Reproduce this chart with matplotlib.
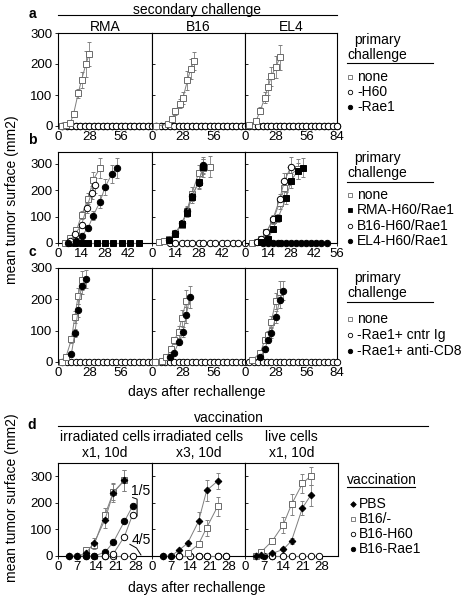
import matplotlib

matplotlib.use("Agg")
import matplotlib.pyplot as plt  # noqa: E402

plt.rcParams["font.family"] = ["Liberation Sans", "DejaVu Sans"]
plt.rcParams["font.size"] = 10

W, H = 466, 599

# ---- panel a: secondary challenge, primary challenge none / -H60 / -Rae1
A_ZERO_DAY = [4, 8, 12, 16, 20, 24, 28, 32, 36, 40, 44, 48, 52, 56, 60, 64, 68, 72, 76, 80, 84]
A_ZERO_VAL = [0, 0, 0, 0, 0, 0, 0, 0, 0, 0, 0, 0, 0, 0, 0, 0, 0, 0, 0, 0, 0]
A_RMA_DAY = [4, 7, 11, 14, 18, 21, 25, 28]
A_RMA_NONE = [0, 2, 10, 40, 105, 148, 200, 233]
A_RMA_ERR = [0, 1, 4, 8, 15, 25, 42, 38]
A_B16_DAY = [4, 14, 18, 21, 25, 28, 32, 35, 38]
A_B16_NONE = [0, 5, 24, 47, 72, 91, 147, 185, 210]
A_B16_ERR = [0, 2, 6, 10, 15, 20, 30, 32, 30]
A_EL4_DAY = [4, 10, 14, 18, 21, 24, 28, 32]
A_EL4_NONE = [2, 16, 50, 91, 126, 160, 190, 222]
A_EL4_ERR = [0, 5, 12, 18, 25, 30, 35, 40]

# ---- panel b: primary challenge none / RMA / B16 / EL4 -H60/Rae1
B_RMA_NONE_DAY = [4, 7, 11, 14, 18, 21, 25]
B_RMA_NONE = [0, 20, 48, 105, 168, 240, 284]
B_RMA_NONE_ERR = [0, 4, 8, 15, 22, 30, 38]
B_RMA_B16_DAY = [7, 10, 14, 17, 20, 22]
B_RMA_B16 = [8, 33, 68, 133, 190, 218]
B_RMA_B16_ERR = [2, 6, 10, 18, 25, 30]
B_RMA_EL4_DAY = [6, 11, 14, 18, 21, 25, 28, 32, 35]
B_RMA_EL4 = [0, 8, 26, 58, 104, 156, 211, 261, 284]
B_RMA_EL4_ERR = [0, 3, 6, 12, 18, 25, 30, 35, 38]
B_RMA_RMA_DAY = [6, 10, 14, 18, 23, 28, 33, 38, 43, 48]
B_RMA_RMA = [0, 0, 0, 0, 0, 0, 0, 0, 0, 0]

B_B16_NONE_DAY = [4, 7, 10, 14, 18, 21, 24, 28, 31, 35]
B_B16_NONE = [3, 8, 14, 39, 70, 123, 186, 265, 284, 290]
B_B16_NONE_ERR = [0, 2, 4, 8, 12, 18, 25, 30, 35, 40]
B_B16_RMA_DAY = [10, 14, 18, 21, 24, 28, 31]
B_B16_RMA = [10, 35, 72, 115, 173, 233, 290]
B_B16_RMA_ERR = [3, 6, 10, 15, 20, 25, 30]
B_B16_EL4_DAY = [10, 14, 18, 21, 24, 28, 31]
B_B16_EL4 = [12, 38, 75, 120, 178, 228, 295]
B_B16_EL4_ERR = [3, 6, 10, 15, 20, 25, 30]
B_B16_B16_DAY = [11, 14, 18, 21, 24, 28, 31, 35, 38, 42, 45, 49, 52, 56]
B_B16_B16 = [0, 0, 0, 0, 0, 0, 0, 0, 0, 0, 0, 0, 0, 0]

B_EL4_NONE_DAY = [4, 7, 10, 13, 17, 21, 24, 27, 32]
B_EL4_NONE = [0, 4, 15, 42, 86, 152, 209, 255, 280]
B_EL4_NONE_ERR = [0, 2, 5, 10, 15, 22, 30, 35, 38]
B_EL4_B16_DAY = [7, 10, 13, 17, 21, 24, 28]
B_EL4_B16 = [4, 15, 40, 90, 165, 235, 290]
B_EL4_B16_ERR = [2, 5, 10, 15, 22, 30, 35]
B_EL4_RMA_DAY = [10, 14, 17, 20, 25, 28, 32, 35]
B_EL4_RMA = [2, 15, 53, 94, 170, 235, 273, 286]
B_EL4_RMA_ERR = [1, 4, 10, 15, 22, 28, 32, 35]
B_EL4_EL4_DAY = [11, 14, 17, 20, 22, 25, 28, 31, 34, 37, 40, 43, 46, 50]
B_EL4_EL4 = [0, 0, 0, 0, 0, 0, 0, 0, 0, 0, 0, 0, 0, 0]

# ---- panel c: primary challenge none / -Rae1+ cntr Ig / -Rae1+ anti-CD8
C_IG_DAY = [4, 8, 12, 16, 20, 24, 28, 32, 36, 40, 44, 48, 52, 56, 60, 64, 68, 72, 76, 80, 84]
C_IG_VAL = [0, 0, 0, 0, 0, 0, 0, 0, 0, 0, 0, 0, 0, 0, 0, 0, 0, 0, 0, 0, 0]
C_RMA_NONE_DAY = [4, 7, 12, 15, 18, 21]
C_RMA_NONE = [0, 15, 72, 144, 211, 261]
C_RMA_NONE_ERR = [0, 3, 10, 18, 25, 30]
C_RMA_CD8_DAY = [12, 15, 18, 21, 25]
C_RMA_CD8 = [26, 93, 165, 243, 265]
C_RMA_CD8_ERR = [5, 12, 20, 25, 30]
C_B16_NONE_DAY = [3, 9, 13, 17, 20, 24, 27, 31]
C_B16_NONE = [0, 4, 15, 40, 69, 96, 141, 195]
C_B16_NONE_ERR = [0, 2, 4, 8, 12, 18, 25, 35]
C_B16_CD8_DAY = [16, 20, 24, 28, 31, 34]
C_B16_CD8 = [15, 29, 63, 96, 149, 208]
C_B16_CD8_ERR = [4, 6, 10, 15, 25, 35]
C_EL4_NONE_DAY = [6, 14, 18, 21, 24, 28, 32]
C_EL4_NONE = [5, 29, 70, 86, 129, 194, 224]
C_EL4_NONE_ERR = [2, 6, 10, 12, 18, 25, 35]
C_EL4_CD8_DAY = [14, 18, 21, 24, 28, 32, 35]
C_EL4_CD8 = [16, 40, 70, 92, 144, 199, 227]
C_EL4_CD8_ERR = [4, 8, 10, 15, 20, 28, 30]

# ---- panel d: vaccination PBS / B16/- / B16-H60 / B16-Rae1
D1_PBS_DAY = [4, 7, 10, 13, 17, 20, 24]
D1_PBS = [0, 0, 10, 48, 137, 238, 285]
D1_PBS_ERR = [0, 0, 3, 20, 30, 35, 40]
D1_B16_DAY = [10, 13, 17, 20, 24]
D1_B16 = [22, 40, 155, 240, 285]
D1_B16_ERR = [3, 10, 25, 30, 40]
D1_RAE_DAY = [4, 7, 10, 13, 17, 20, 24, 27]
D1_RAE = [0, 0, 0, 0, 14, 52, 130, 188]
D1_H60_DAY = [17, 20, 24, 27]
D1_H60 = [0, 8, 73, 156]
D1_H60Z_DAY = [10, 13, 17, 20, 24, 27]
D1_H60Z = [0, 0, 0, 0, 0, 0]

D2_PBS_DAY = [4, 7, 10, 13, 17, 20, 24]
D2_PBS = [0, 0, 23, 48, 130, 247, 282]
D2_PBS_ERR = [0, 0, 5, 10, 35, 40, 30]
D2_B16_DAY = [13, 17, 20, 24]
D2_B16 = [10, 44, 107, 187]
D2_B16_ERR = [3, 12, 30, 35]
D2_RAE_DAY = [4, 7, 10, 14, 17, 20, 24, 27]
D2_RAE = [0, 0, 0, 0, 0, 0, 0, 0]
D2_H60_DAY = [10, 14, 17, 20, 24, 27]
D2_H60 = [0, 0, 0, 0, 0, 0]

D3_PBS_DAY = [4, 6, 10, 14, 17, 21, 24]
D3_PBS = [0, 4, 10, 25, 57, 181, 228]
D3_PBS_ERR = [0, 1, 3, 8, 12, 25, 40]
D3_B16_DAY = [4, 6, 10, 14, 17, 21, 24]
D3_B16 = [0, 16, 57, 118, 194, 273, 301]
D3_B16_ERR = [0, 3, 10, 30, 40, 35, 35]
D3_RAE_DAY = [4, 7, 10]
D3_RAE = [0, 0, 0]
D3_H60_DAY = [10, 14, 17, 21, 24, 27]
D3_H60 = [0, 0, 0, 0, 0, 0]

STYLE = {
    "none": dict(marker="s", mfc="white", mec="#6a6a6a"),
    "open": dict(marker="o", mfc="white", mec="black"),
    "dot": dict(marker="o", mfc="black", mec="black"),
    "fsq": dict(marker="s", mfc="black", mec="black"),
    "dia": dict(marker="D", mfc="black", mec="black"),
}
LINE = "#7f7f7f"


def px_axes(fig, x0, x1, top, bottom):
    return fig.add_axes([x0 / W, 1 - bottom / H, (x1 - x0) / W, (bottom - top) / H])


def series(ax, days, vals, style, err=None, ms=4.6):
    kw = dict(color=LINE, lw=0.7, ms=ms if style != "dia" else ms - 1.2, mew=0.7,
              clip_on=False, zorder=3, **STYLE[style])
    if err is None:
        ax.plot(days, vals, **kw)
    else:
        ax.errorbar(days, vals, yerr=err, ecolor=LINE, elinewidth=0.6, capsize=1.6,
                    capthick=0.6, **kw)


def style_axes(ax, xlim, ylim, xticks, first):
    ax.set_xlim(*xlim)
    ax.set_ylim(*ylim)
    ax.set_xticks(xticks)
    ax.set_yticks([0, 100, 200, 300])
    for sp in ax.spines.values():
        sp.set_linewidth(0.8)
    ax.tick_params(axis="x", length=2, width=0.6, pad=1.5, labelsize=9.5)
    ax.tick_params(axis="y", length=2.5, width=0.6, pad=1.5, labelsize=9.5,
                   direction="out" if first else "in", labelleft=first)


fig = plt.figure(figsize=(W / 100, H / 100), dpi=100)

cols = [(58, 152), (152, 245), (245, 337)]

# panel a
a_sets = [(A_RMA_DAY, A_RMA_NONE, A_RMA_ERR), (A_B16_DAY, A_B16_NONE, A_B16_ERR),
          (A_EL4_DAY, A_EL4_NONE, A_EL4_ERR)]
for i, (x0, x1) in enumerate(cols):
    ax = px_axes(fig, x0, x1, 33, 126)
    style_axes(ax, (0, 84), (0, 300), [0, 28, 56, 84] if i == 2 else [0, 28, 56], i == 0)
    series(ax, A_ZERO_DAY, A_ZERO_VAL, "dot")
    series(ax, A_ZERO_DAY, A_ZERO_VAL, "open")
    d, v, e = a_sets[i]
    series(ax, d, v, "none", e)

# panel b
b_sets = [
    [(B_RMA_RMA_DAY, B_RMA_RMA, None, "fsq"), (B_RMA_NONE_DAY, B_RMA_NONE, B_RMA_NONE_ERR, "none"),
     (B_RMA_B16_DAY, B_RMA_B16, B_RMA_B16_ERR, "open"), (B_RMA_EL4_DAY, B_RMA_EL4, B_RMA_EL4_ERR, "dot")],
    [(B_B16_B16_DAY, B_B16_B16, None, "open"), (B_B16_NONE_DAY, B_B16_NONE, B_B16_NONE_ERR, "none"),
     (B_B16_EL4_DAY, B_B16_EL4, B_B16_EL4_ERR, "dot"), (B_B16_RMA_DAY, B_B16_RMA, B_B16_RMA_ERR, "fsq")],
    [(B_EL4_EL4_DAY, B_EL4_EL4, None, "dot"), (B_EL4_NONE_DAY, B_EL4_NONE, B_EL4_NONE_ERR, "none"),
     (B_EL4_B16_DAY, B_EL4_B16, B_EL4_B16_ERR, "open"), (B_EL4_RMA_DAY, B_EL4_RMA, B_EL4_RMA_ERR, "fsq")],
]
for i, (x0, x1) in enumerate(cols):
    ax = px_axes(fig, x0, x1, 152, 243)
    style_axes(ax, (0, 56), (0, 345), [0, 14, 28, 42, 56] if i == 2 else [0, 14, 28, 42], i == 0)
    for d, v, e, s in b_sets[i]:
        series(ax, d, v, s, e)

# panel c
c_sets = [(C_RMA_NONE_DAY, C_RMA_NONE, C_RMA_NONE_ERR, C_RMA_CD8_DAY, C_RMA_CD8, C_RMA_CD8_ERR),
          (C_B16_NONE_DAY, C_B16_NONE, C_B16_NONE_ERR, C_B16_CD8_DAY, C_B16_CD8, C_B16_CD8_ERR),
          (C_EL4_NONE_DAY, C_EL4_NONE, C_EL4_NONE_ERR, C_EL4_CD8_DAY, C_EL4_CD8, C_EL4_CD8_ERR)]
for i, (x0, x1) in enumerate(cols):
    ax = px_axes(fig, x0, x1, 268, 362)
    style_axes(ax, (0, 84), (0, 300), [0, 28, 56, 84] if i == 2 else [0, 28, 56], i == 0)
    series(ax, C_IG_DAY, C_IG_VAL, "open")
    nd, nv, ne, cd, cv, ce = c_sets[i]
    series(ax, nd, nv, "none", ne)
    series(ax, cd, cv, "dot", ce)

# panel d
d_sets = [
    [(D1_H60Z_DAY, D1_H60Z, None, "open"), (D1_RAE_DAY, D1_RAE, None, "dot"),
     (D1_H60_DAY, D1_H60, None, "open"), (D1_B16_DAY, D1_B16, D1_B16_ERR, "none"),
     (D1_PBS_DAY, D1_PBS, D1_PBS_ERR, "dia")],
    [(D2_RAE_DAY, D2_RAE, None, "dot"), (D2_H60_DAY, D2_H60, None, "open"),
     (D2_B16_DAY, D2_B16, D2_B16_ERR, "none"), (D2_PBS_DAY, D2_PBS, D2_PBS_ERR, "dia")],
    [(D3_RAE_DAY, D3_RAE, None, "dot"), (D3_H60_DAY, D3_H60, None, "open"),
     (D3_B16_DAY, D3_B16, D3_B16_ERR, "none"), (D3_PBS_DAY, D3_PBS, D3_PBS_ERR, "dia")],
]
d_axes = []
for i, (x0, x1) in enumerate([(58, 152), (152, 245), (245, 338)]):
    ax = px_axes(fig, x0, x1, 463, 556)
    style_axes(ax, (0, 34), (0, 350), [0, 7, 14, 21, 28], i == 0)
    for d, v, e, s in d_sets[i]:
        series(ax, d, v, s, e)
    d_axes.append(ax)

ax = d_axes[0]
ax.text(30, 243, "1/5", ha="center", va="center", fontsize=10)
ax.plot([27.0, 28.6, 28.6, 27.3], [220, 214, 150, 144], color="black", lw=0.7, clip_on=False)
ax.text(30, 62, "4/5", ha="center", va="center", fontsize=10)
ax.plot([26.0, 28.4, 30.0], [44, 30, 4], color="black", lw=0.7, clip_on=False)

# overlay in pixel coordinates for headers and legends
ov = fig.add_axes([0, 0, 1, 1])
ov.set_xlim(0, W)
ov.set_ylim(H, 0)
ov.set_axis_off()
ov.patch.set_alpha(0)

ov.text(197, 10, "secondary challenge", ha="center", va="center")
ov.plot([58, 337], [15, 15], color="black", lw=0.8)
for (x0, x1), name in zip(cols, ["RMA", "B16", "EL4"]):
    ov.text((x0 + x1) / 2, 27, name, ha="center", va="center")

ov.text(229, 418, "vaccination", ha="center", va="center")
ov.plot([58, 428], [426, 426], color="black", lw=0.8)
for (x0, x1), name in zip([(58, 152), (152, 245), (245, 338)],
                          ["irradiated cells\nx1, 10d", "irradiated cells\nx3, 10d", "live cells\nx1, 10d"]):
    ov.text((x0 + x1) / 2, 445, name, ha="center", va="center", linespacing=1.15)

for lab, y in [("a", 14), ("b", 140), ("c", 252), ("d", 425)]:
    ov.text(32, y, lab, ha="center", va="center", fontweight="bold", fontsize=10)

ov.text(12, 200, "mean tumor surface (mm2)", rotation=90, ha="center", va="center")
ov.text(12, 498, "mean tumor surface (mm2)", rotation=90, ha="center", va="center")
ov.text(197, 392, "days after rechallenge", ha="center", va="center")
ov.text(197, 588, "days after rechallenge", ha="center", va="center")


def legend_mark(x, y, style):
    ov.plot([x], [y], ls="none", ms=3.2 if style != "dia" else 2.8, mew=0.6, **STYLE[style])


def legend(top_lines, underline_y, rows, entries, x_mark=350, x_text=357):
    for txt, y in top_lines:
        ov.text(377, y, txt, ha="center", va="center")
    ov.plot([347, 433], [underline_y, underline_y], color="black", lw=0.8)
    for (style, label), y in zip(entries, rows):
        legend_mark(x_mark, y, style)
        ov.text(x_text, y, label, ha="left", va="center")


legend([("primary", 40), ("challenge", 55)], 63, [77, 92, 107],
       [("none", "none"), ("open", "-H60"), ("dot", "-Rae1")])
legend([("primary", 158), ("challenge", 173)], 182, [195, 210, 226, 241],
       [("none", "none"), ("fsq", "RMA-H60/Rae1"), ("open", "B16-H60/Rae1"), ("dot", "EL4-H60/Rae1")])
legend([("primary", 278), ("challenge", 293)], 302, [319, 335, 351],
       [("none", "none"), ("open", "-Rae1+ cntr Ig"), ("dot", "-Rae1+ anti-CD8")])

ov.text(347, 480, "vaccination", ha="left", va="center")
ov.plot([347, 415], [487, 487], color="black", lw=0.8)
for (style, label), y in zip([("dia", "PBS"), ("none", "B16/-"), ("open", "B16-H60"), ("dot", "B16-Rae1")],
                             [504, 519, 534, 549]):
    legend_mark(353, y, style)
    ov.text(359, y, label, ha="left", va="center")

fig.savefig("out.png", dpi=100)
